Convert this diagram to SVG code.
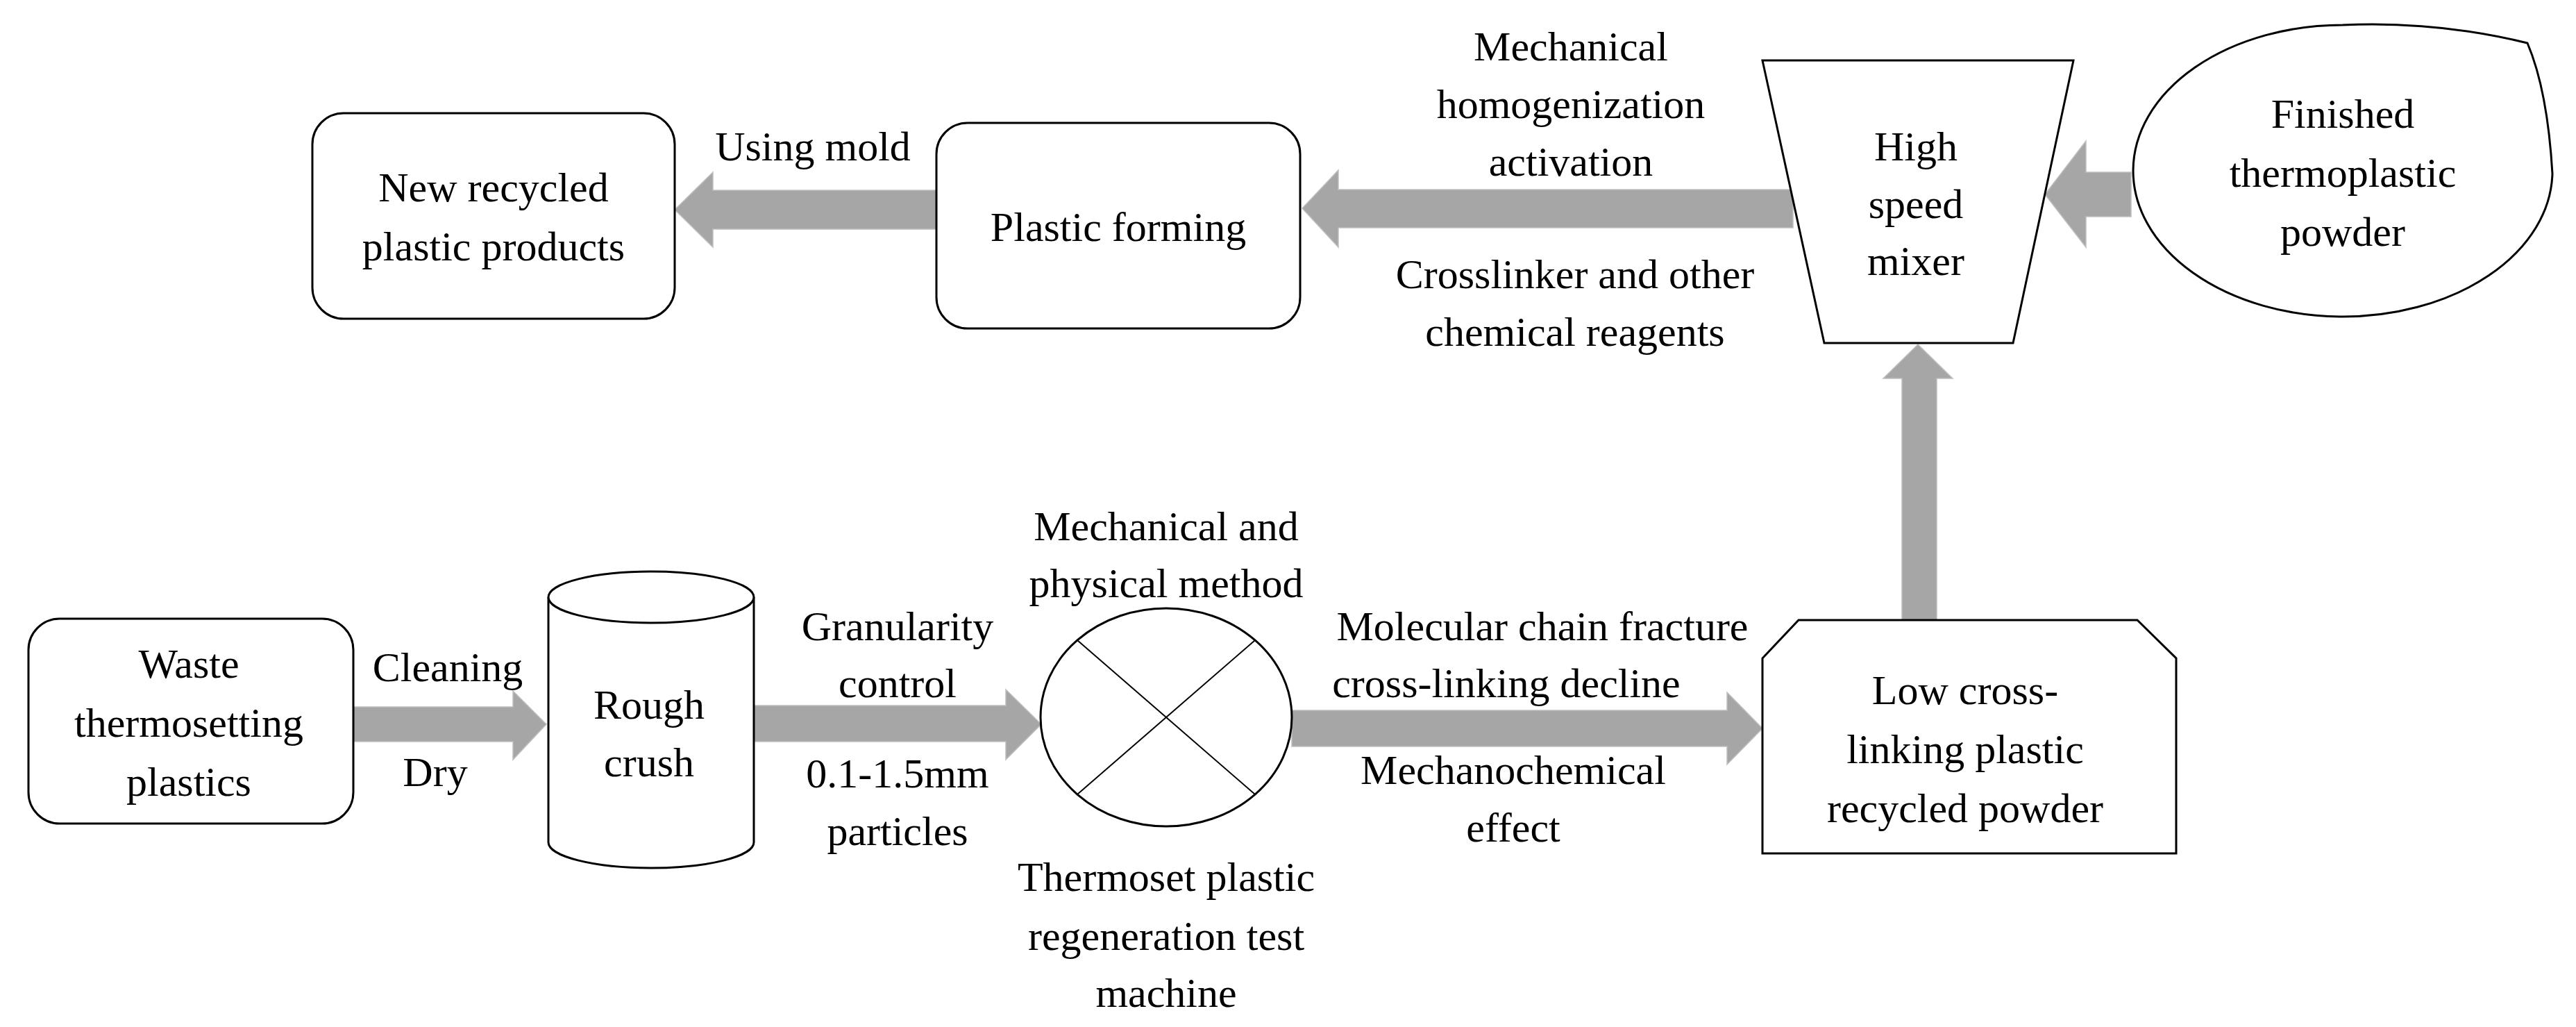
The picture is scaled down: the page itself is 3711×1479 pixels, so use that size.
<svg xmlns="http://www.w3.org/2000/svg" width="3711" height="1479" viewBox="0 0 3711 1479">
<style>
.n{fill:#fff;stroke:#000;stroke-width:3}
.a{fill:#a6a6a6;stroke:#bfbfbf;stroke-width:1.5}
text{font-family:"Liberation Serif","Times New Roman",serif;font-size:60px;fill:#000;text-anchor:middle}
.l{stroke:#000;stroke-width:2;fill:none}
</style>
<g id="connectors">
<polygon class="a" points="1349,274 1027,274 1027,248 972,302 1027,356 1027,330 1349,330"/>
<polygon class="a" points="2583,273 1928,273 1928,245 1876,300 1928,356 1928,328 2583,328"/>
<polygon class="a" points="3070,248 3005,248 3005,203 2946,280 3005,356 3005,312 3070,312"/>
<polygon class="a" points="2740,893 2740,545 2713,545 2763,496 2813,545 2790,545 2790,893"/>
<polygon class="a" points="509,1018 739,1018 739,995 787,1043 739,1094 739,1068 509,1068"/>
<polygon class="a" points="1086,1016 1449,1016 1449,993 1500,1043 1449,1094 1449,1068 1086,1068"/>
<polygon class="a" points="1861,1023 2488,1023 2488,997 2539,1049 2488,1101 2488,1075 1861,1075"/>
</g>
<g id="labels">
<text x="1171" y="231">Using mold</text>
<text x="2263" y="87">Mechanical</text>
<text x="2263" y="170">homogenization</text>
<text x="2263" y="253">activation</text>
<text x="2269" y="415">Crosslinker and other</text>
<text x="2269" y="498">chemical reagents</text>
<text x="645" y="981">Cleaning</text>
<text x="627" y="1132">Dry</text>
<text x="1293" y="922">Granularity</text>
<text x="1293" y="1004">control</text>
<text x="1293" y="1134">0.1-1.5mm</text>
<text x="1293" y="1217">particles</text>
<text x="2222" y="922">Molecular chain fracture</text>
<text x="2170" y="1004">cross-linking decline</text>
<text x="2180" y="1129">Mechanochemical</text>
<text x="2180" y="1212">effect</text>
</g>
<g id="new-products">
<rect class="n" x="450" y="163" width="522" height="296" rx="45"/>
<text x="711" y="290">New recycled</text>
<text x="711" y="375">plastic products</text>
</g>
<g id="plastic-forming">
<rect class="n" x="1349" y="177" width="524" height="296" rx="45"/>
<text x="1611" y="347">Plastic forming</text>
</g>
<g id="mixer">
<polygon class="n" points="2539,87 2987,87 2900,494 2628,494"/>
<text x="2760" y="231">High</text>
<text x="2760" y="314">speed</text>
<text x="2760" y="396">mixer</text>
</g>
<g id="thermoplastic-powder">
<path class="n" d="M3375,36 A302,210 0 1 0 3677,250 Q3670,130 3641,62 Q3510,30 3375,36 Z"/>
<text x="3375" y="184">Finished</text>
<text x="3375" y="269">thermoplastic</text>
<text x="3375" y="354">powder</text>
</g>
<g id="waste">
<rect class="n" x="41" y="891" width="468" height="295" rx="45"/>
<text x="272" y="976">Waste</text>
<text x="272" y="1061">thermosetting</text>
<text x="272" y="1146">plastics</text>
</g>
<g id="rough-crush">
<path class="n" d="M790,860 L790,1213 A148,37 0 0 0 1086,1213 L1086,860"/>
<ellipse class="n" cx="938" cy="860" rx="148" ry="37"/>
<text x="935" y="1035">Rough</text>
<text x="935" y="1118">crush</text>
</g>
<g id="test-machine">
<ellipse class="n" cx="1680" cy="1033" rx="181" ry="157"/>
<line class="l" x1="1552" y1="922" x2="1808" y2="1144"/>
<line class="l" x1="1808" y1="922" x2="1552" y2="1144"/>
<text x="1680" y="778">Mechanical and</text>
<text x="1680" y="860">physical method</text>
<text x="1680" y="1283">Thermoset plastic</text>
<text x="1680" y="1368">regeneration test</text>
<text x="1680" y="1450">machine</text>
</g>
<g id="low-crosslink">
<polygon class="n" points="2591,893 3079,893 3135,948 3135,1229 2539,1229 2539,948"/>
<text x="2831" y="1014">Low cross-</text>
<text x="2831" y="1099">linking plastic</text>
<text x="2831" y="1184">recycled powder</text>
</g>
</svg>
